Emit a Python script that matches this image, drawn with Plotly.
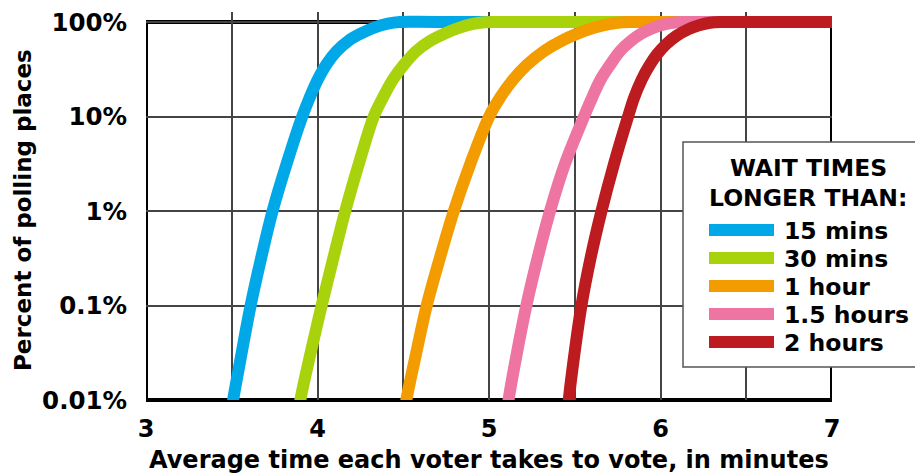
import plotly.graph_objects as go

# ---------------- data ----------------
SERIES_NAMES = ["15 mins", "30 mins", "1 hour", "1.5 hours", "2 hours"]
COLORS = ["#00A8E8", "#A8D30C", "#F29C00", "#EE74A1", "#BC1C1F"]

X_TICKS = [3, 4, 5, 6, 7]
X_TICK_LABELS = ["3", "4", "5", "6", "7"]
X_MINOR_GRID = [3.5, 4.5, 5.5, 6.5]
Y_TICKS = [0.01, 0.1, 1, 10, 100]
Y_TICK_LABELS = ["0.01%", "0.1%", "1%", "10%", "100%"]

# values: x = minutes per voter, y = percent of polling places
x_15min = [3.496, 3.508, 3.558, 3.610, 3.671, 3.738, 3.820, 3.911, 3.954, 4.001, 4.054, 4.112,
           4.182, 4.258, 4.334, 4.410, 4.480, 4.700, 7.0]
y_15min = [0.007, 0.01, 0.0316, 0.1, 0.316, 1, 3.16, 10, 15.8, 24.5, 36.1, 49.2,
           63.7, 76.2, 87.9, 96.2, 100, 100, 100]

x_30min = [3.888, 3.900, 3.960, 4.024, 4.092, 4.162, 4.241, 4.328, 4.381, 4.439, 4.503, 4.576,
           4.655, 4.743, 4.824, 4.900, 4.976, 5.046, 5.300, 7.0]
y_30min = [0.007, 0.01, 0.0316, 0.1, 0.316, 1, 3.16, 10, 15.8, 24.5, 35.2, 49.2,
           62.8, 75.7, 86.7, 95.1, 99.4, 100, 100, 100]

x_1hr = [4.505, 4.518, 4.576, 4.637, 4.713, 4.795, 4.891, 5.001, 5.064, 5.140, 5.221, 5.321,
         5.420, 5.519, 5.612, 5.700, 5.776, 5.858, 6.100, 7.0]
y_1hr = [0.007, 0.01, 0.0316, 0.1, 0.316, 1, 3.16, 10, 15.8, 24.5, 35.2, 49.2,
         62.8, 75.7, 86.7, 95.1, 99.4, 100, 100, 100]

x_15hr = [5.104, 5.114, 5.163, 5.218, 5.283, 5.356, 5.443, 5.554, 5.601, 5.650, 5.706, 5.764,
          5.826, 5.890, 5.957, 6.027, 6.097, 6.173, 6.400, 7.0]
y_15hr = [0.007, 0.01, 0.0316, 0.1, 0.316, 1, 3.16, 10, 15.8, 24.5, 35.2, 49.2,
          62.8, 75.7, 86.7, 95.1, 99.4, 100, 100, 100]

x_2hr = [5.458, 5.465, 5.499, 5.539, 5.592, 5.656, 5.729, 5.811, 5.846, 5.890, 5.934, 5.980,
         6.033, 6.094, 6.161, 6.225, 6.290, 6.360, 6.600, 7.0]
y_2hr = [0.007, 0.01, 0.0316, 0.1, 0.316, 1, 3.16, 10, 15.8, 24.5, 34.3, 45.5,
         58.2, 71.5, 83.6, 92.5, 98.2, 100, 100, 100]

SERIES_X = [x_15min, x_30min, x_1hr, x_15hr, x_2hr]
SERIES_Y = [y_15min, y_30min, y_1hr, y_15hr, y_2hr]

LEGEND_TITLE = ["WAIT TIMES", "LONGER THAN:"]
X_TITLE = "Average time each voter takes to vote, in minutes"
Y_TITLE = "Percent of polling places"

# ---------------- layout geometry (pixels) ----------------
W, H = 915, 473
ML, MR, MT, MB = 146, 83, 12, 73
PW, PH = W - ML - MR, H - MT - MB
Y_RANGE = [-2, 2.106]


def pxx(p):
    return (p - ML) / PW


def pxy(p):
    return (H - MB - p) / PH


FONT = "DejaVu Sans"

fig = go.Figure()
for name, xs, ys, col in zip(SERIES_NAMES, SERIES_X, SERIES_Y, COLORS):
    fig.add_trace(go.Scatter(
        x=xs, y=ys, mode="lines", name=name,
        line=dict(color=col, width=12, shape="spline", smoothing=1.0),
        showlegend=False, hoverinfo="skip",
    ))

grid_col = "#444444"
fig.update_xaxes(
    range=[3, 7], tickmode="array", tickvals=X_TICKS, ticktext=X_TICK_LABELS,
    showgrid=True, gridcolor=grid_col, gridwidth=1.5,
    minor=dict(tickmode="array", tickvals=X_MINOR_GRID, showgrid=True,
               gridcolor=grid_col, gridwidth=1.5),
    ticks="outside", ticklen=7, tickcolor="rgba(0,0,0,0)",
    tickfont=dict(family=FONT, size=24, color="black", weight="bold"),
    zeroline=False, showline=False, layer="below traces",
)
fig.update_yaxes(
    type="log", range=Y_RANGE, tickmode="array", tickvals=Y_TICKS, ticktext=Y_TICK_LABELS,
    showgrid=True, gridcolor=grid_col, gridwidth=1.5,
    ticks="outside", ticklen=13, tickcolor="rgba(0,0,0,0)",
    tickfont=dict(family=FONT, size=24.5, color="black", weight="bold"),
    zeroline=False, showline=False, layer="below traces",
)

frame_top = (2 - Y_RANGE[0]) / (Y_RANGE[1] - Y_RANGE[0])
shapes = [
    dict(type="rect", xref="x", yref="paper", x0=3, x1=7, y0=0, y1=frame_top,
         line=dict(color="black", width=4), fillcolor="rgba(0,0,0,0)", layer="below"),
    # legend box
    dict(type="rect", xref="paper", yref="paper", x0=pxx(683), x1=pxx(935),
         y0=pxy(367), y1=pxy(142), line=dict(color="#555555", width=1.5),
         fillcolor="white", layer="above"),
]
annotations = [
    dict(text=X_TITLE, xref="paper", yref="paper", x=0.5, y=pxy(460), showarrow=False,
         xanchor="center", yanchor="middle",
         font=dict(family=FONT, size=24, color="black", weight="bold")),
    dict(text=Y_TITLE, xref="paper", yref="paper", x=pxx(23), y=pxy(210), showarrow=False,
         textangle=-90, xanchor="center", yanchor="middle",
         font=dict(family=FONT, size=23, color="black", weight="bold")),
]
for i, t in enumerate(LEGEND_TITLE):
    annotations.append(dict(text=t, xref="paper", yref="paper", x=pxx(808), y=pxy(168 + 29.5 * i),
                            showarrow=False, xanchor="center", yanchor="middle",
                            font=dict(family=FONT, size=23.5, color="black", weight="bold")))
for i, (name, col) in enumerate(zip(SERIES_NAMES, COLORS)):
    yy = 230 + 28 * i
    shapes.append(dict(type="line", xref="paper", yref="paper", x0=pxx(709), x1=pxx(774),
                       y0=pxy(yy), y1=pxy(yy), line=dict(color=col, width=12), layer="above"))
    annotations.append(dict(text=name, xref="paper", yref="paper", x=pxx(782), y=pxy(yy + 1),
                            showarrow=False, xanchor="left", yanchor="middle",
                            font=dict(family=FONT, size=23.5, color="black", weight="bold")))

fig.update_layout(
    width=W, height=H, margin=dict(l=ML, r=MR, t=MT, b=MB, autoexpand=False),
    paper_bgcolor="white", plot_bgcolor="white",
    shapes=shapes, annotations=annotations, showlegend=False,
)

fig.write_html("out.html", config={"displayModeBar": False},
               post_script="document.body.style.margin='0px';")
